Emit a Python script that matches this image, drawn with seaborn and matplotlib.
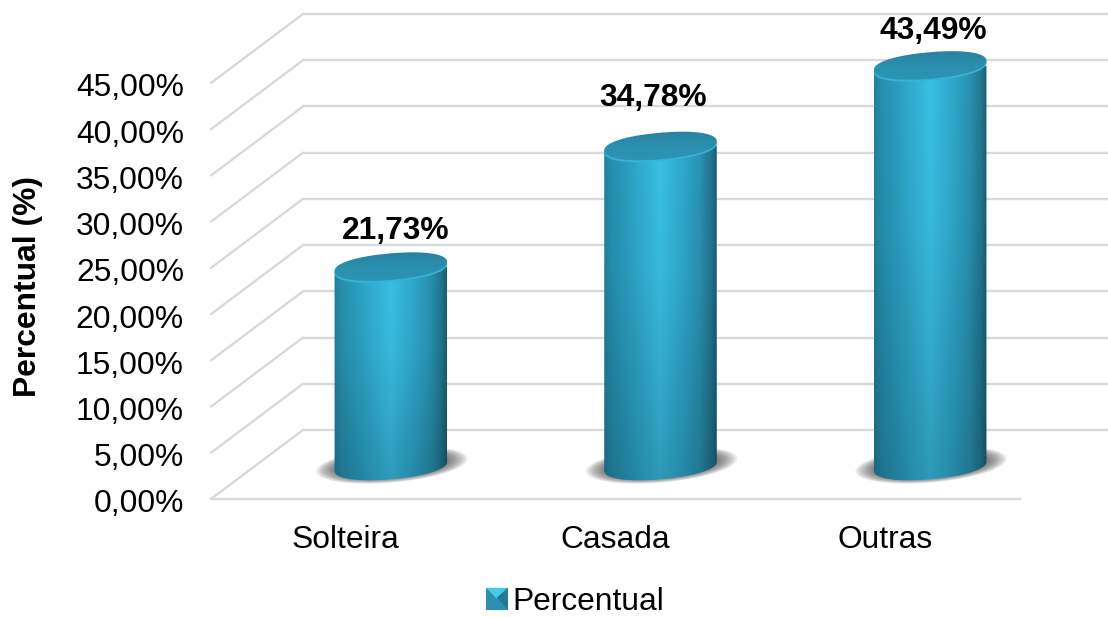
import numpy as np
import pandas as pd
import matplotlib
matplotlib.use("Agg")
import matplotlib.pyplot as plt
import seaborn as sns
from matplotlib.colors import LinearSegmentedColormap
from matplotlib.patches import PathPatch, Polygon, Patch
from matplotlib.path import Path
from matplotlib.transforms import IdentityTransform, ScaledTranslation
from matplotlib.legend_handler import HandlerBase

# ---- data ----
categories = ["Solteira", "Casada", "Outras"]
percentual = [21.73, 34.78, 43.49]
value_labels = ["21,73%", "34,78%", "43,49%"]
y_ticks = [0, 5, 10, 15, 20, 25, 30, 35, 40, 45]
y_tick_labels = ["0,00%", "5,00%", "10,00%", "15,00%", "20,00%",
                 "25,00%", "30,00%", "35,00%", "40,00%", "45,00%"]
series_name = "Percentual"
y_title = "Percentual (%)"
# nudges of the value labels, px (x, y above the cap centre)
label_nudges = [(5, 36), (-7, 48), (3, 35)]

# ---- layout, in pixels of the 1108x617 picture ----
W, H = 1108, 617
FRONT_L, FRONT_R, FRONT_0, FRONT_45 = 211, 1020, 499, 83
MID_DX, MID_DY = 45, -31
BACK_DX, BACK_DY = 92, -69
GRID = "#d9d9d9"
GRID_LW = 1.7
FS = 22.9

sns.set_theme(style="white")
plt.rcParams["font.family"] = ["Liberation Sans", "DejaVu Sans"]
plt.rcParams["text.color"] = "black"
plt.rcParams["axes.labelcolor"] = "black"
plt.rcParams["xtick.color"] = "black"
plt.rcParams["ytick.color"] = "black"

fig = plt.figure(figsize=(W / 100, H / 100), dpi=100, facecolor="white")


def plane(dx, dy):
    rect = [(FRONT_L + dx) / W, (H - FRONT_0 - dy) / H,
            (FRONT_R - FRONT_L) / W, (FRONT_0 - FRONT_45) / H]
    ax = fig.add_axes(rect, facecolor="none")
    ax.set_xlim(-0.5, 2.5)
    ax.set_ylim(0, 45)
    for s in ax.spines.values():
        s.set_visible(False)
    return ax


ax_back = plane(BACK_DX, BACK_DY)
ax_front = plane(0, 0)
ax_mid = plane(MID_DX, MID_DY)

# back wall
ax_back.set_xticks([])
ax_back.set_yticks(y_ticks)
ax_back.tick_params(left=False, labelleft=False)
ax_back.grid(axis="y", color=GRID, lw=GRID_LW)
for gl in ax_back.get_ygridlines():
    gl.set_clip_on(False)

# front plane: ticks, titles, floor edge, side wall
ax_front.set_xticks(range(len(categories)), categories)
ax_front.set_yticks(y_ticks, y_tick_labels)
ax_front.tick_params(axis="x", length=0, pad=19, labelsize=FS)
ax_front.tick_params(axis="y", length=0, pad=19.5, labelsize=FS)
shift = ScaledTranslation(0, -2 / 100, fig.dpi_scale_trans)
for lab in ax_front.get_yticklabels():
    lab.set_transform(lab.get_transform() + shift)
ax_front.set_ylabel(y_title, fontsize=FS, fontweight="bold")
ax_front.yaxis.set_label_coords(-0.2076, 0.51)
ax_front.spines["bottom"].set_visible(True)
ax_front.spines["bottom"].set_color(GRID)
ax_front.spines["bottom"].set_linewidth(GRID_LW)
xu = 3 / (FRONT_R - FRONT_L)
yu = 45 / (FRONT_0 - FRONT_45)
for v in y_ticks:
    ax_front.plot([-0.5, -0.5 + BACK_DX * xu], [v, v - BACK_DY * yu],
                  color=GRID, lw=GRID_LW, clip_on=False, solid_capstyle="round")
ax_front.set_xlim(-0.5, 2.5)
ax_front.set_ylim(0, 45)

# bars
df = pd.DataFrame({"Categoria": categories, series_name: percentual})
sns.barplot(data=df, x="Categoria", y=series_name, ax=ax_mid, color="#2e9fc0",
            width=0.419, saturation=1, zorder=2)
ax_mid.set_xlim(-0.5, 2.5)
ax_mid.set_ylim(0, 45)
ax_mid.set_xlabel("")
ax_mid.set_ylabel("")
ax_mid.set_xticks([])
ax_mid.set_yticks([])
ax_mid.set_autoscale_on(False)

TILT = 5.0
BB = 13.2
ROUND = 2.2
stops_x = [0.0, 0.06, 0.25, 0.5, 0.7, 0.85, 0.95, 1.0]
stops_c = np.array([[0x22, 0x80, 0x9e], [0x26, 0x8e, 0xad], [0x2c, 0xa3, 0xc6],
                    [0x39, 0xbf, 0xe5], [0x2e, 0xa8, 0xcc], [0x29, 0x92, 0xb1],
                    [0x22, 0x76, 0x8f], [0x1a, 0x5e, 0x73]]) / 255


def ell(cx, cy, a, b, t, n=2.0):
    c, s = np.cos(np.radians(TILT)), np.sin(np.radians(TILT))
    ct, st = np.cos(t), np.sin(t)
    x = a * np.sign(ct) * np.abs(ct) ** (2 / n)
    y = b * np.sign(st) * np.abs(st) ** (2 / n)
    return np.column_stack([cx + x * c - y * s, cy + x * s + y * c])


def ell_path(cx, cy, a, b, n=2.0):
    t = np.linspace(0, 2 * np.pi, 160)
    return Path(ell(cx, cy, a, b, t, n), closed=True)


for bar, value, text, nudge in zip(ax_mid.patches, percentual, value_labels, label_nudges):
    x0, w = bar.get_x(), bar.get_width()
    xc = x0 + w / 2
    (px0, py0), (px1, py1) = ax_mid.transData.transform([(x0, 0), (x0 + w, value)])
    cx = (px0 + px1) / 2
    a = (px1 - px0) / 2

    # ground shadow
    for k in np.linspace(1.0, 0.72, 12):
        ax_mid.add_patch(PathPatch(ell_path(cx + 1, py0 + 3, 76 * k, 17.5 * k),
                                   transform=IdentityTransform(), fc="#383838",
                                   ec="none", alpha=0.085, zorder=1, clip_on=False))

    # cylinder body
    t_low = np.linspace(np.pi, 2 * np.pi, 80)
    low = ell(cx, py0 + 2, a, BB, t_low, ROUND)
    up = ell(cx, py1, a, BB, t_low[::-1], ROUND)
    body = Path(np.vstack([low, up, low[:1]]), closed=True)
    bar.set_visible(False)
    nx, ny = 200, 120
    tx = np.linspace(0, 1, nx)
    prof = np.column_stack([np.interp(tx, stops_x, stops_c[:, i]) for i in range(3)])
    shade = np.interp(np.linspace(0, 1, ny), [0, 0.35, 1], [1.0, 0.97, 0.80])
    img = prof[None, :, :] * shade[:, None, None]
    im = ax_mid.imshow(img, extent=(x0, x0 + w, -3, value), origin="upper",
                       aspect="auto", zorder=3, interpolation="bilinear")
    im.set_clip_box(fig.bbox)
    im.set_clip_path(body, IdentityTransform())

    # lit rim and top cap
    ax_mid.add_patch(PathPatch(ell_path(cx, py1 - 1.4, a, BB, ROUND),
                               transform=IdentityTransform(), fc="#38b2d6",
                               ec="none", zorder=4, clip_on=False))
    cap_col = LinearSegmentedColormap.from_list("cap", ["#277f9d", "#2b8fae", "#2d97b6"])
    cap_img = np.linspace(0, 1, 60)[:, None]
    dy_units = 45 / (FRONT_0 - FRONT_45)
    cap = ax_mid.imshow(cap_img, extent=(x0, x0 + w, value - 18 * dy_units, value + 18 * dy_units),
                        cmap=cap_col, origin="upper", aspect="auto", zorder=5)
    cap.set_clip_box(fig.bbox)
    cap.set_clip_path(ell_path(cx, py1 + 0.5, a, BB, ROUND), IdentityTransform())

    ax_mid.annotate(text, xy=(xc, value), xytext=(nudge[0] * 0.72, nudge[1] * 0.72),
                    textcoords="offset points", ha="center", va="center",
                    fontsize=FS, fontweight="bold", color="black", zorder=6,
                    annotation_clip=False)

ax_mid.set_xlim(-0.5, 2.5)
ax_mid.set_ylim(0, 45)


# legend with a bevelled key
class BevelHandler(HandlerBase):
    def create_artists(self, legend, orig, xd, yd, width, height, fontsize, trans):
        x0, y0 = -xd, -yd
        x1, y1 = x0 + width, y0 + height
        cx, cy = (x0 + x1) / 2, (y0 + y1) / 2
        arts = []
        for pts, col in [
            ([(x0, y0), (x0, y1), (x1, y1), (x1, y0)], "#2a8fb0"),
            ([(x0, y1), (x1, y1), (cx, cy)], "#45c8ea"),
            ([(x1, y0), (x1, y1), (cx, cy + 1)], "#237a95"),
        ]:
            arts.append(Polygon(pts, closed=True, fc=col, ec="none", transform=trans))
        return arts


legend = fig.legend([Patch()], [series_name], loc="center",
                    bbox_to_anchor=(575 / W, (H - 602) / H), frameon=False, fontsize=FS,
                    handler_map={Patch: BevelHandler()}, handlelength=0.69,
                    handleheight=0.69, handletextpad=0.14, borderpad=0, borderaxespad=0)

fig.savefig("out.png", dpi=100, facecolor="white")
